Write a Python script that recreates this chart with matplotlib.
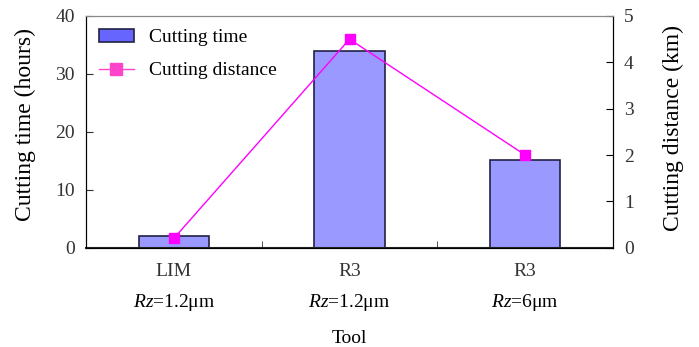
import matplotlib
matplotlib.use("Agg")
import matplotlib.pyplot as plt
from matplotlib.patches import Patch
from matplotlib.lines import Line2D

tools = ["LIM", "R3", "R3"]
rz_values = ["1.2μm", "1.2μm", "6μm"]
cutting_time = [2.0, 34.0, 15.2]
cutting_distance = [0.2, 4.5, 2.0]

plt.rcParams['font.family'] = ['Liberation Serif', 'DejaVu Serif']
plt.rcParams['mathtext.fontset'] = 'custom'
plt.rcParams['mathtext.rm'] = 'Liberation Serif'
plt.rcParams['mathtext.it'] = 'Liberation Serif:italic'

fig = plt.figure(figsize=(6.99, 3.47), dpi=100)
ax = fig.add_axes([86/699, 1-247.7/347, (613-86)/699, (247.7-16)/347])
x = list(range(len(tools)))
ax.bar(x, cutting_time, width=0.4, color='#9999FF', edgecolor='#222244', linewidth=1.2, zorder=2)
ax.set_xlim(-0.5, 2.5)
ax.set_ylim(0, 40)
ax.set_yticks([0, 10, 20, 30, 40])
ax.tick_params(axis='y', direction='in', length=5, labelsize=14, colors='#333333', labelcolor='#333333', pad=8)
ax.set_xticks(x)
ax.set_xticklabels(tools)
ax.tick_params(axis='x', which='major', length=0, labelsize=14, pad=11, labelcolor='#333333')
ax.set_xticks([0.5, 1.5], minor=True)
ax.tick_params(axis='x', which='minor', direction='in', length=5, color='#333333')
for i, rz in enumerate(rz_values):
    ax.text(i, -0.235, r"$\mathit{Rz}$=" + rz, transform=ax.get_xaxis_transform(),
            ha='center', va='center', fontsize=14)
ax.text(0.5, -0.39, "Tool", transform=ax.transAxes, ha='center', va='center', fontsize=14)
ax.set_ylabel("Cutting time (hours)", fontsize=17)
ax.yaxis.set_label_coords(-0.095, 0.53)
ax.spines['top'].set_color('#888888')
ax.spines['bottom'].set_linewidth(1.5)
ax.spines['bottom'].set_color('#222222')

ax2 = ax.twinx()
ax2.plot(x, cutting_distance, color='#FF00FF', linewidth=1, marker='s', markersize=7,
         markerfacecolor='#FF00FF', markeredgecolor='#FF00FF', zorder=3)
ax2.set_ylim(0, 5)
ax2.set_yticks([0, 1, 2, 3, 4, 5])
ax2.tick_params(axis='y', direction='in', length=5, labelsize=14, labelcolor='#333333', pad=8)
ax2.set_ylabel("Cutting distance (km)", fontsize=17)
ax2.yaxis.set_label_coords(1.095, 0.515)
ax2.spines['top'].set_color('#888888')

handles = [Patch(facecolor='#6666FF', edgecolor='#222244', linewidth=1.2),
           Line2D([0], [0], color='#FF44CC', marker='s', markersize=9, linewidth=1)]
ax.legend(handles, ["Cutting time", "Cutting distance"], loc='upper left', frameon=False,
          fontsize=14, handlelength=1.8, handletextpad=0.8, labelspacing=0.8,
          borderaxespad=0.25)

fig.savefig("out.png", dpi=100)
